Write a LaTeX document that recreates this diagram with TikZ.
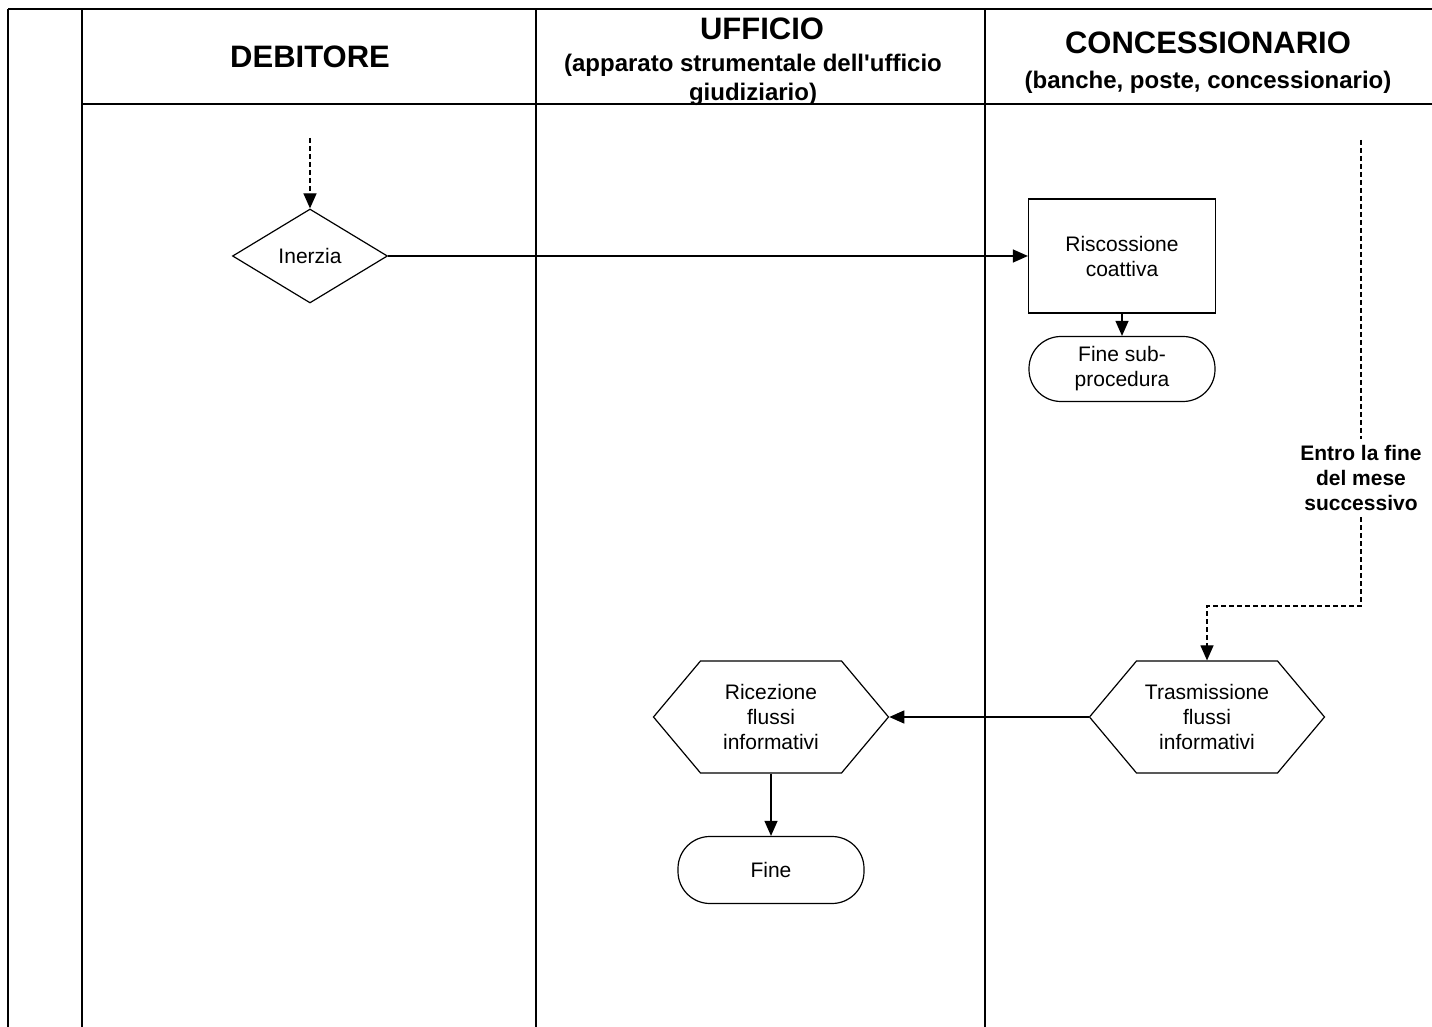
\documentclass[tikz,border=0pt]{standalone}
\usepackage{fontspec}
\setmainfont{Liberation Sans}
\usetikzlibrary{shapes.geometric,shapes.symbols,arrows.meta}

\tikzset{
  lane/.style={line width=0.8pt},
  head/.style={font=\fontsize{15.5}{18}\selectfont\bfseries,inner sep=0pt},
  subhead/.style={font=\fontsize{12}{14.5}\selectfont\bfseries,align=center,inner sep=0pt},
  txt/.style={font=\fontsize{10.5}{12.5}\selectfont,align=center,inner sep=0pt},
  decision/.style={diamond,draw,line width=0.6pt,txt,minimum width=77.5pt,minimum height=47pt},
  process/.style={rectangle,draw,line width=0.6pt,txt,minimum width=93.5pt,minimum height=57pt},
  terminal/.style={rectangle,rounded corners=16pt,draw,line width=0.6pt,txt,minimum width=93pt,minimum height=32.5pt},
  flowinfo/.style={signal,signal to=west and east,signal pointer angle=100,draw,line width=0.6pt,txt,minimum width=117.5pt,minimum height=56pt},
  arr/.style={-{Triangle[length=7.5pt,width=6.5pt]},line width=0.6pt},
  dashline/.style={line width=0.6pt,dash pattern=on 2.5pt off 1.5pt},
  darr/.style={arr,dashline},
}

\begin{document}
\begin{tikzpicture}[x=0.5pt,y=-0.5pt]
    \useasboundingbox (0,0) rectangle (1432,1027);

    % frame and lanes
    \draw[line width=1.2pt] (8,9) -- (1432,9);
    \foreach \x in {8,82,536,985} {
      \draw[lane] (\x,9) -- (\x,1027);
    }
    \draw[lane] (82,104) -- (1432,104);

    % headers
    \node[head] (hdeb) at (310,57) {DEBITORE};
    \node[head] (huff) at (762,29) {UFFICIO};
    \node[subhead] (huffsub) at (753,80) {(apparato strumentale dell\textquotesingle ufficio\\giudiziario)};
    \node[head] (hcon) at (1208,43) {CONCESSIONARIO};
    \node[subhead] (hconsub) at (1208,82) {(banche, poste, concessionario)};

    % nodes
    \node[decision] (inerzia) at (310,256) {Inerzia};
    \node[process] (risc) at (1122,256) {Riscossione\\coattiva};
    \node[terminal] (finesub) at (1122,369) {Fine sub-\\procedura};
    \node[flowinfo] (trasm) at (1207,717) {Trasmissione\\flussi\\informativi};
    \node[flowinfo] (ric) at (771,717) {Ricezione\\flussi\\informativi};
    \node[terminal,minimum height=33.5pt] (fine) at (771,870) {Fine};
    \node[txt,font=\fontsize{10.5}{12.5}\selectfont\bfseries,inner sep=3pt] (entro) at (1361,478) {Entro la fine\\del mese\\successivo};

    \coordinate (startdeb) at (310,138);
    \coordinate (startcon) at (1361,140);
    \coordinate (bend) at (1361,606);

    % connectors
    \draw[darr] (startdeb) -- (inerzia.north);
    \draw[arr] (inerzia.east) -- (risc.west);
    \draw[arr] (risc.south) -- (finesub.north);
    \draw[dashline] (startcon) -- (entro.north);
    \draw[darr] (entro.south) -- (bend) -| (trasm.north);
    \draw[arr] (trasm.west) -- (ric.east);
    \draw[arr] (ric.south) -- (fine.north);
\end{tikzpicture}
\end{document}
